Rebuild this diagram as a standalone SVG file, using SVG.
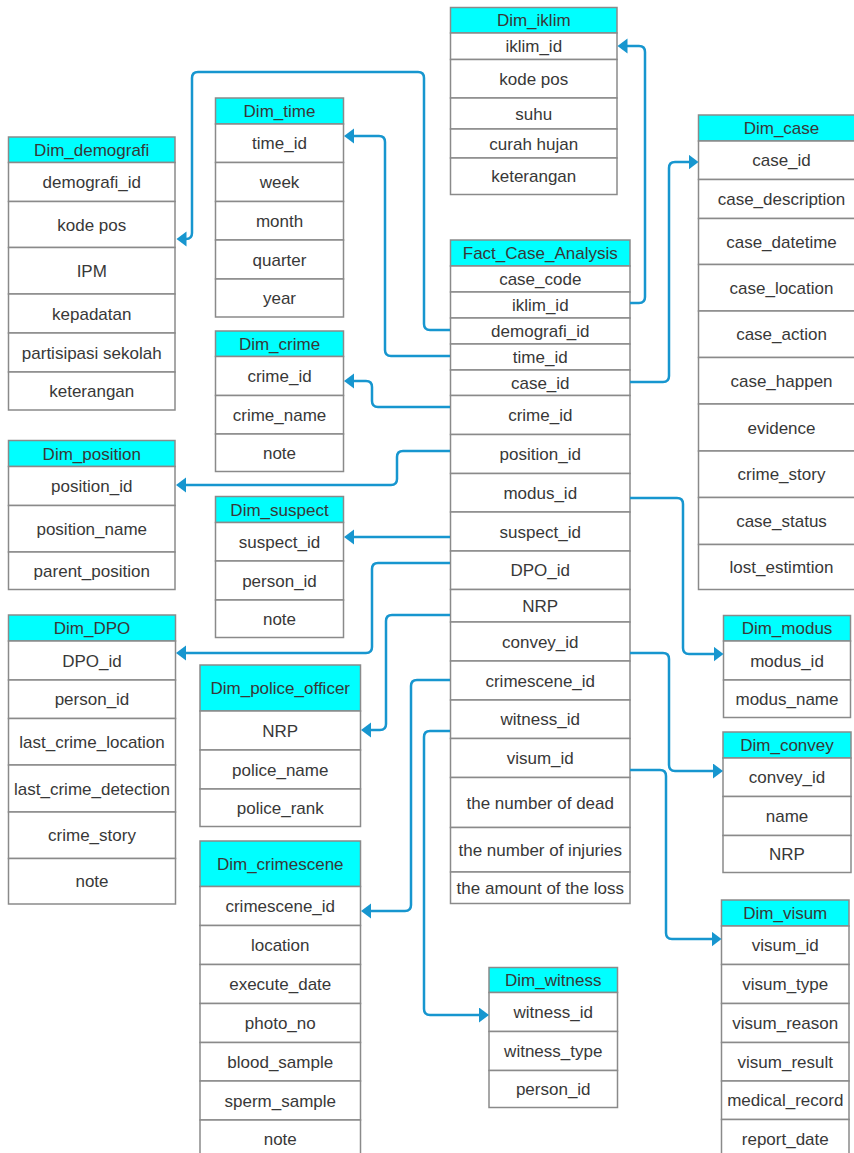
<svg xmlns="http://www.w3.org/2000/svg" width="854" height="1153" viewBox="0 0 854 1153">
<style>
.h{fill:#00FFFF;stroke:#8A8A8A;stroke-width:1.5}
.r{fill:#FFFFFF;stroke:#8A8A8A;stroke-width:1.5}
text{font-family:"Liberation Sans",Arial,sans-serif;font-size:17px;fill:#383838;text-anchor:middle}
.c{fill:none;stroke:#1796CF;stroke-width:2.5}
</style>
<defs>
<marker id="a" markerUnits="userSpaceOnUse" markerWidth="11" markerHeight="16" refX="1" refY="7.5" orient="auto">
<path d="M0,0 L10,7.5 L0,15 z" fill="#1796CF"/>
</marker>
</defs>
<rect width="854" height="1153" fill="#FFFFFF"/>

<g id="Dim_iklim">
<rect class="h" x="450.5" y="7.5" width="166.5" height="25.5"/>
<rect class="r" x="450.5" y="33" width="166.5" height="26.5"/>
<rect class="r" x="450.5" y="59.5" width="166.5" height="38.5"/>
<rect class="r" x="450.5" y="98" width="166.5" height="31"/>
<rect class="r" x="450.5" y="129" width="166.5" height="29"/>
<rect class="r" x="450.5" y="158" width="166.5" height="36.5"/>
<text x="533.75" y="26">Dim_iklim</text>
<text x="533.75" y="52">iklim_id</text>
<text x="533.75" y="85">kode pos</text>
<text x="533.75" y="119.5">suhu</text>
<text x="533.75" y="149.5">curah hujan</text>
<text x="533.75" y="182">keterangan</text>
</g>

<g id="Dim_demografi">
<rect class="h" x="8.5" y="137" width="166.5" height="25.5"/>
<rect class="r" x="8.5" y="162.5" width="166.5" height="39"/>
<rect class="r" x="8.5" y="201.5" width="166.5" height="46"/>
<rect class="r" x="8.5" y="247.5" width="166.5" height="46.5"/>
<rect class="r" x="8.5" y="294" width="166.5" height="39"/>
<rect class="r" x="8.5" y="333" width="166.5" height="39"/>
<rect class="r" x="8.5" y="372" width="166.5" height="38"/>
<text x="91.75" y="155.75">Dim_demografi</text>
<text x="91.75" y="188">demografi_id</text>
<text x="91.75" y="230.5">kode pos</text>
<text x="91.75" y="276.75">IPM</text>
<text x="91.75" y="319.5">kepadatan</text>
<text x="91.75" y="358.5">partisipasi sekolah</text>
<text x="91.75" y="397">keterangan</text>
</g>

<g id="Dim_time">
<rect class="h" x="215.5" y="98" width="128" height="26"/>
<rect class="r" x="215.5" y="124" width="128" height="38.5"/>
<rect class="r" x="215.5" y="162.5" width="128" height="39"/>
<rect class="r" x="215.5" y="201.5" width="128" height="38.5"/>
<rect class="r" x="215.5" y="240" width="128" height="39"/>
<rect class="r" x="215.5" y="279" width="128" height="38"/>
<text x="279.5" y="117">Dim_time</text>
<text x="279.5" y="149.25">time_id</text>
<text x="279.5" y="188">week</text>
<text x="279.5" y="226.75">month</text>
<text x="279.5" y="265.5">quarter</text>
<text x="279.5" y="304">year</text>
</g>

<g id="Dim_crime">
<rect class="h" x="215.5" y="331" width="128" height="25.5"/>
<rect class="r" x="215.5" y="356.5" width="128" height="39"/>
<rect class="r" x="215.5" y="395.5" width="128" height="38.5"/>
<rect class="r" x="215.5" y="434" width="128" height="37.5"/>
<text x="279.5" y="349.75">Dim_crime</text>
<text x="279.5" y="382">crime_id</text>
<text x="279.5" y="420.75">crime_name</text>
<text x="279.5" y="458.75">note</text>
</g>

<g id="Dim_position">
<rect class="h" x="8.5" y="440.5" width="166.5" height="26"/>
<rect class="r" x="8.5" y="466.5" width="166.5" height="39"/>
<rect class="r" x="8.5" y="505.5" width="166.5" height="46.5"/>
<rect class="r" x="8.5" y="552" width="166.5" height="37.5"/>
<text x="91.75" y="459.5">Dim_position</text>
<text x="91.75" y="492">position_id</text>
<text x="91.75" y="534.75">position_name</text>
<text x="91.75" y="576.75">parent_position</text>
</g>

<g id="Dim_suspect">
<rect class="h" x="215.5" y="496.5" width="128" height="26"/>
<rect class="r" x="215.5" y="522.5" width="128" height="38.5"/>
<rect class="r" x="215.5" y="561" width="128" height="39"/>
<rect class="r" x="215.5" y="600" width="128" height="37.5"/>
<text x="279.5" y="515.5">Dim_suspect</text>
<text x="279.5" y="547.75">suspect_id</text>
<text x="279.5" y="586.5">person_id</text>
<text x="279.5" y="624.75">note</text>
</g>

<g id="Dim_DPO">
<rect class="h" x="8.5" y="615" width="167" height="26"/>
<rect class="r" x="8.5" y="641" width="167" height="39"/>
<rect class="r" x="8.5" y="680" width="167" height="38.5"/>
<rect class="r" x="8.5" y="718.5" width="167" height="46.5"/>
<rect class="r" x="8.5" y="765" width="167" height="47"/>
<rect class="r" x="8.5" y="812" width="167" height="46.5"/>
<rect class="r" x="8.5" y="858.5" width="167" height="45.5"/>
<text x="92" y="634">Dim_DPO</text>
<text x="92" y="666.5">DPO_id</text>
<text x="92" y="705.25">person_id</text>
<text x="92" y="747.75">last_crime_location</text>
<text x="92" y="794.5">last_crime_detection</text>
<text x="92" y="841.25">crime_story</text>
<text x="92" y="887.25">note</text>
</g>

<g id="Dim_police_officer">
<rect class="h" x="200" y="665" width="160.5" height="46"/>
<rect class="r" x="200" y="711" width="160.5" height="39"/>
<rect class="r" x="200" y="750" width="160.5" height="39"/>
<rect class="r" x="200" y="789" width="160.5" height="37.5"/>
<text x="280.25" y="694">Dim_police_officer</text>
<text x="280.25" y="736.5">NRP</text>
<text x="280.25" y="775.5">police_name</text>
<text x="280.25" y="813.75">police_rank</text>
</g>

<g id="Dim_crimescene">
<rect class="h" x="200" y="841" width="160.5" height="45.5"/>
<rect class="r" x="200" y="886.5" width="160.5" height="39"/>
<rect class="r" x="200" y="925.5" width="160.5" height="39"/>
<rect class="r" x="200" y="964.5" width="160.5" height="39"/>
<rect class="r" x="200" y="1003.5" width="160.5" height="39"/>
<rect class="r" x="200" y="1042.5" width="160.5" height="38.5"/>
<rect class="r" x="200" y="1081" width="160.5" height="39"/>
<rect class="r" x="200" y="1120" width="160.5" height="45"/>
<text x="280.25" y="869.75">Dim_crimescene</text>
<text x="280.25" y="912">crimescene_id</text>
<text x="280.25" y="951">location</text>
<text x="280.25" y="990">execute_date</text>
<text x="280.25" y="1029">photo_no</text>
<text x="280.25" y="1067.75">blood_sample</text>
<text x="280.25" y="1106.5">sperm_sample</text>
<text x="280.25" y="1145">note</text>
</g>

<g id="Dim_witness">
<rect class="h" x="489" y="967.5" width="128.5" height="25"/>
<rect class="r" x="489" y="992.5" width="128.5" height="39"/>
<rect class="r" x="489" y="1031.5" width="128.5" height="39"/>
<rect class="r" x="489" y="1070.5" width="128.5" height="37"/>
<text x="553.25" y="986">Dim_witness</text>
<text x="553.25" y="1018">witness_id</text>
<text x="553.25" y="1057">witness_type</text>
<text x="553.25" y="1095">person_id</text>
</g>

<g id="Fact_Case_Analysis">
<rect class="h" x="450.5" y="240" width="179.5" height="26"/>
<rect class="r" x="450.5" y="266" width="179.5" height="26"/>
<rect class="r" x="450.5" y="292" width="179.5" height="26"/>
<rect class="r" x="450.5" y="318" width="179.5" height="26"/>
<rect class="r" x="450.5" y="344" width="179.5" height="26"/>
<rect class="r" x="450.5" y="370" width="179.5" height="25.5"/>
<rect class="r" x="450.5" y="395.5" width="179.5" height="39"/>
<rect class="r" x="450.5" y="434.5" width="179.5" height="39"/>
<rect class="r" x="450.5" y="473.5" width="179.5" height="38.5"/>
<rect class="r" x="450.5" y="512" width="179.5" height="39"/>
<rect class="r" x="450.5" y="551" width="179.5" height="38.5"/>
<rect class="r" x="450.5" y="589.5" width="179.5" height="32.5"/>
<rect class="r" x="450.5" y="622" width="179.5" height="39"/>
<rect class="r" x="450.5" y="661" width="179.5" height="39"/>
<rect class="r" x="450.5" y="700" width="179.5" height="38.5"/>
<rect class="r" x="450.5" y="738.5" width="179.5" height="39"/>
<rect class="r" x="450.5" y="777.5" width="179.5" height="50"/>
<rect class="r" x="450.5" y="827.5" width="179.5" height="44.5"/>
<rect class="r" x="450.5" y="872" width="179.5" height="31.5"/>
<text x="540.25" y="259">Fact_Case_Analysis</text>
<text x="540.25" y="285">case_code</text>
<text x="540.25" y="311">iklim_id</text>
<text x="540.25" y="337">demografi_id</text>
<text x="540.25" y="363">time_id</text>
<text x="540.25" y="388.75">case_id</text>
<text x="540.25" y="421">crime_id</text>
<text x="540.25" y="460">position_id</text>
<text x="540.25" y="498.75">modus_id</text>
<text x="540.25" y="537.5">suspect_id</text>
<text x="540.25" y="576.25">DPO_id</text>
<text x="540.25" y="611.75">NRP</text>
<text x="540.25" y="647.5">convey_id</text>
<text x="540.25" y="686.5">crimescene_id</text>
<text x="540.25" y="725.25">witness_id</text>
<text x="540.25" y="764">visum_id</text>
<text x="540.25" y="808.5">the number of dead</text>
<text x="540.25" y="855.75">the number of injuries</text>
<text x="540.25" y="893.75">the amount of the loss</text>
</g>

<g id="Dim_case">
<rect class="h" x="698.5" y="115" width="166" height="26"/>
<rect class="r" x="698.5" y="141" width="166" height="38.5"/>
<rect class="r" x="698.5" y="179.5" width="166" height="39"/>
<rect class="r" x="698.5" y="218.5" width="166" height="46"/>
<rect class="r" x="698.5" y="264.5" width="166" height="46.5"/>
<rect class="r" x="698.5" y="311" width="166" height="46.5"/>
<rect class="r" x="698.5" y="357.5" width="166" height="46.5"/>
<rect class="r" x="698.5" y="404" width="166" height="47"/>
<rect class="r" x="698.5" y="451" width="166" height="46.5"/>
<rect class="r" x="698.5" y="497.5" width="166" height="47"/>
<rect class="r" x="698.5" y="544.5" width="166" height="45"/>
<text x="781.5" y="134">Dim_case</text>
<text x="781.5" y="166.25">case_id</text>
<text x="781.5" y="205">case_description</text>
<text x="781.5" y="247.5">case_datetime</text>
<text x="781.5" y="293.75">case_location</text>
<text x="781.5" y="340.25">case_action</text>
<text x="781.5" y="386.75">case_happen</text>
<text x="781.5" y="433.5">evidence</text>
<text x="781.5" y="480.25">crime_story</text>
<text x="781.5" y="527">case_status</text>
<text x="781.5" y="573">lost_estimtion</text>
</g>

<g id="Dim_modus">
<rect class="h" x="723.5" y="615.5" width="127" height="25.5"/>
<rect class="r" x="723.5" y="641" width="127" height="39"/>
<rect class="r" x="723.5" y="680" width="127" height="37.5"/>
<text x="787" y="634.25">Dim_modus</text>
<text x="787" y="666.5">modus_id</text>
<text x="787" y="704.75">modus_name</text>
</g>

<g id="Dim_convey">
<rect class="h" x="723" y="732" width="128" height="26"/>
<rect class="r" x="723" y="758" width="128" height="38.5"/>
<rect class="r" x="723" y="796.5" width="128" height="39"/>
<rect class="r" x="723" y="835.5" width="128" height="37"/>
<text x="787" y="751">Dim_convey</text>
<text x="787" y="783.25">convey_id</text>
<text x="787" y="822">name</text>
<text x="787" y="860">NRP</text>
</g>

<g id="Dim_visum">
<rect class="h" x="721.5" y="900" width="127.5" height="26"/>
<rect class="r" x="721.5" y="926" width="127.5" height="38.5"/>
<rect class="r" x="721.5" y="964.5" width="127.5" height="39"/>
<rect class="r" x="721.5" y="1003.5" width="127.5" height="39"/>
<rect class="r" x="721.5" y="1042.5" width="127.5" height="38.5"/>
<rect class="r" x="721.5" y="1081" width="127.5" height="38.5"/>
<rect class="r" x="721.5" y="1119.5" width="127.5" height="45"/>
<text x="785.25" y="919">Dim_visum</text>
<text x="785.25" y="951.25">visum_id</text>
<text x="785.25" y="990">visum_type</text>
<text x="785.25" y="1029">visum_reason</text>
<text x="785.25" y="1067.75">visum_result</text>
<text x="785.25" y="1106.25">medical_record</text>
<text x="785.25" y="1145">report_date</text>
</g>

<g id="connectors">
<path class="c" marker-end="url(#a)" d="M630,303 H639 Q645,303 645,297 V52 Q645,46 639,46 H626.5"/>
<path class="c" marker-end="url(#a)" d="M450,330 H430 Q424,330 424,324 V78 Q424,72 418,72 H198 Q192,72 192,78 V233 Q192,239 186,239 H185.5"/>
<path class="c" marker-end="url(#a)" d="M450,356 H391 Q385,356 385,350 V142 Q385,136 379,136 H353"/>
<path class="c" marker-end="url(#a)" d="M450,407 H378 Q372,407 372,401 V387 Q372,381 366,381 H353"/>
<path class="c" marker-end="url(#a)" d="M450,451 H403 Q397,451 397,457 V479 Q397,485 391,485 H185"/>
<path class="c" marker-end="url(#a)" d="M450,537 H353"/>
<path class="c" marker-end="url(#a)" d="M450,563 H378 Q372,563 372,569 V647 Q372,653 366,653 H185"/>
<path class="c" marker-end="url(#a)" d="M450,615 H392 Q386,615 386,621 V724 Q386,730 380,730 H370"/>
<path class="c" marker-end="url(#a)" d="M450,680 H417 Q411,680 411,686 V905 Q411,911 405,911 H370"/>
<path class="c" marker-end="url(#a)" d="M450,731 H430 Q424,731 424,737 V1009 Q424,1015 430,1015 H480"/>
<path class="c" marker-end="url(#a)" d="M630,382 H663 Q669,382 669,376 V168 Q669,162 675,162 H689.5"/>
<path class="c" marker-end="url(#a)" d="M630,498 H677 Q683,498 683,504 V648 Q683,654 689,654 H714.5"/>
<path class="c" marker-end="url(#a)" d="M630,653 H663 Q669,653 669,659 V765 Q669,771 675,771 H714"/>
<path class="c" marker-end="url(#a)" d="M630,770 H660 Q666,770 666,776 V933 Q666,939 672,939 H712.5"/>
</g>
</svg>
